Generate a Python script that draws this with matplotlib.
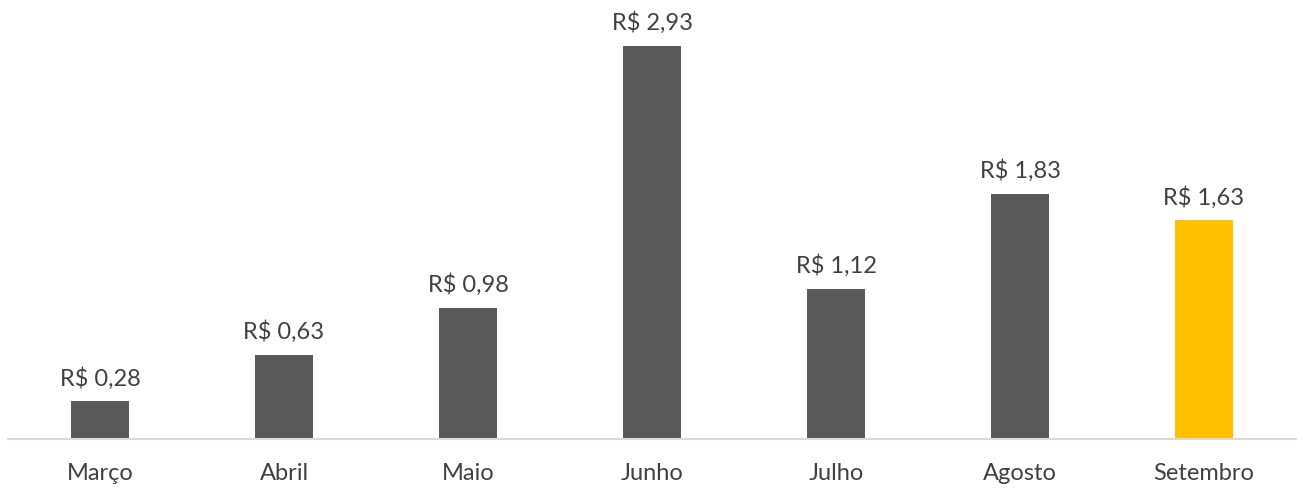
import matplotlib
matplotlib.use("Agg")
import matplotlib.pyplot as plt

meses = ["Março", "Abril", "Maio", "Junho", "Julho", "Agosto", "Setembro"]
valores = [0.28, 0.63, 0.98, 2.93, 1.12, 1.83, 1.63]
cores = ["#595959"] * 6 + ["#FFC000"]

plt.rcParams["font.family"] = ["Lato", "DejaVu Sans"]

fig = plt.figure(figsize=(13.03, 4.92), dpi=100)
ax = fig.add_axes([8 / 1303, 53 / 492, 1288 / 1303, 439 / 492])

x = range(len(meses))
ax.bar(x, valores, width=0.315, color=cores, zorder=2)

for xi, v in zip(x, valores):
    rotulo = "R$ " + f"{v:.2f}".replace(".", ",")
    ax.annotate(rotulo, (xi, v), xytext=(0, 11.5), textcoords="offset points",
                ha="center", va="baseline", fontsize=17, color="#404040")

ax.set_xlim(-0.5, len(meses) - 0.5)
ax.set_ylim(0, 439 / 134.1)
ax.set_xticks(list(x))
ax.set_xticklabels(meses, fontsize=17, color="#404040")
ax.tick_params(axis="x", length=0, pad=17)
ax.set_yticks([])
for lado in ["top", "right", "left"]:
    ax.spines[lado].set_visible(False)
ax.spines["bottom"].set_color("#D9D9D9")
ax.spines["bottom"].set_linewidth(1.5)

fig.savefig("out.png", dpi=100, facecolor="white")
